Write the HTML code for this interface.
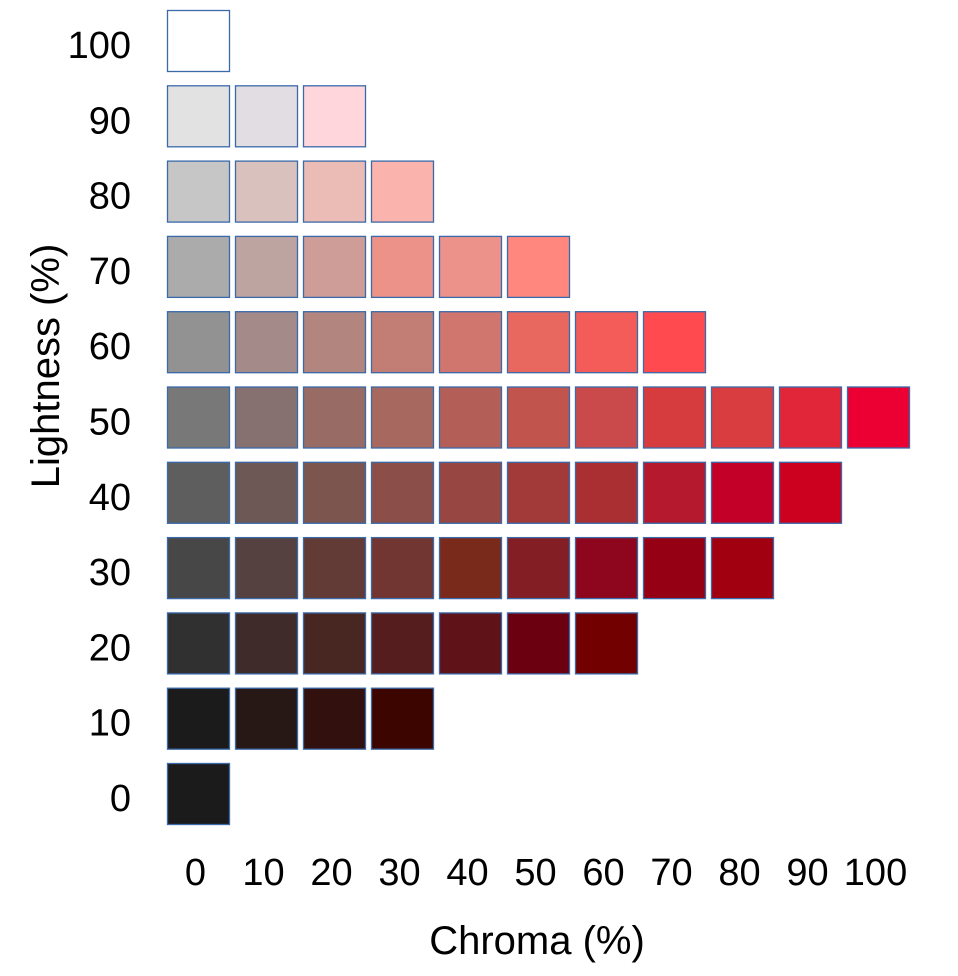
<!DOCTYPE html>
<html><head><meta charset="utf-8"><style>
body{margin:0;background:#fff;width:958px;height:976px;overflow:hidden}
svg{display:block;font-family:"Liberation Sans",sans-serif}
</style></head><body>
<svg id="chart" width="958" height="976" viewBox="0 0 958 976">
<g id="cells"></g>
<g id="ylabels"></g>
<g id="xlabels"></g>
<text x="537" y="954" font-size="40" text-anchor="middle">Chroma (%)</text>
<text transform="translate(59,366) rotate(-90)" font-size="40" text-anchor="middle">Lightness (%)</text>
</svg>
<script>
const lightness=[100,90,80,70,60,50,40,30,20,10,0];
const chroma=[0,10,20,30,40,50,60,70,80,90,100];
const row100=["#ffffff"];
const row90=["#e2e2e2","#e1dde2","#ffd6dc"];
const row80=["#c6c6c6","#d9c1bd","#ebbbb6","#fab4ad"];
const row70=["#ababab","#bea4a0","#cf9d97","#ed9288","#ec928a","#ff877e"];
const row60=["#929292","#a48a89","#b2857e","#c27e75","#d0766e","#e86860","#f45c59","#ff4b50"];
const row50=["#787878","#877170","#986b64","#a7695f","#b45e58","#c1544d","#ca4a4b","#d63c3e","#d93d40","#e1263a","#ec0033"];
const row40=["#5e5e5e","#6e5856","#7c554f","#8b4e48","#974641","#a23a3a","#aa2f33","#b4192d","#c20028","#cc001f"];
const row30=["#474747","#55413f","#623b36","#713532","#7a2a1a","#831e24","#8e061e","#960015","#a0000f"];
const row20=["#303030","#3e2b2a","#482723","#551d1e","#5f1217","#6a0010","#720000"];
const row10=["#1b1b1b","#281815","#31100e","#3c0500"];
const row0=["#1b1b1b"];
const rows=[row100,row90,row80,row70,row60,row50,row40,row30,row20,row10,row0];
const NS="http://www.w3.org/2000/svg";
const xPos=i=>167+68*i;           // column left edge
const yPos=l=>10+(100-l)*7.53;    // row top edge
const cw=63,ch=62;
const cg=document.getElementById('cells');
rows.forEach((r,ri)=>{
  r.forEach((c,ci)=>{
    const el=document.createElementNS(NS,'rect');
    
    
    el.setAttribute('x',xPos(ci)+0.5);el.setAttribute('y',yPos(lightness[ri])+0.5);
    el.setAttribute('width',cw-1);el.setAttribute('height',ch-1);
    el.setAttribute('fill',c);el.setAttribute('stroke','#3a6aaa');el.setAttribute('stroke-width','1.3');
    cg.appendChild(el);
  });
});
const yg=document.getElementById('ylabels');
lightness.forEach(l=>{
  const t=document.createElementNS(NS,'text');
  
  
  t.setAttribute('x',131);t.setAttribute('y',yPos(l)+ch/2+17);
  t.setAttribute('font-size','38');t.setAttribute('text-anchor','end');
  t.textContent=l;yg.appendChild(t);
});
const xg=document.getElementById('xlabels');
chroma.forEach((c,i)=>{
  const t=document.createElementNS(NS,'text');
  
  
  t.setAttribute('x',xPos(i)+cw/2-3);t.setAttribute('y',885);
  t.setAttribute('font-size','38');t.setAttribute('text-anchor','middle');
  t.textContent=c;xg.appendChild(t);
});
</script>
</body></html>
